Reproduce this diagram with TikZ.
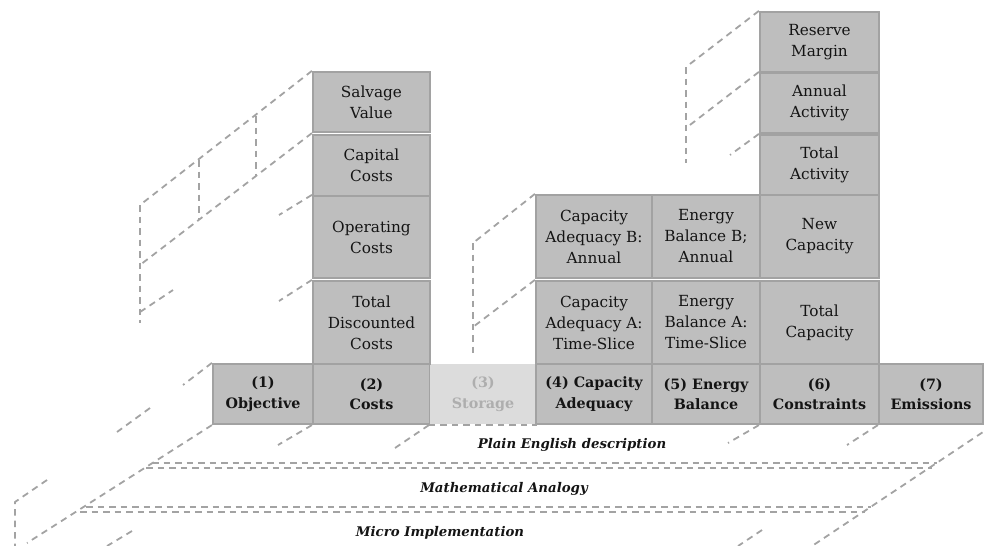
\documentclass[tikz,border=0pt]{standalone}
\usepackage{fontspec}
\setmainfont{DejaVu Serif}
\definecolor{boxgray}{HTML}{BEBEBE}
\definecolor{bordergray}{HTML}{A2A2A2}
\definecolor{dashgray}{HTML}{A3A3A3}
\definecolor{stfill}{HTML}{DCDCDC}
\definecolor{sttext}{HTML}{AEAEAE}
\definecolor{textdark}{HTML}{141414}
\begin{document}
\begin{tikzpicture}[x=1pt,y=-1pt,
  blk/.style={draw=bordergray, fill=boxgray, line width=2.2pt, inner sep=0pt, align=center,
    font=\fontsize{15.3}{21}\selectfont, text=textdark},
  bot/.style={blk, font=\fontsize{14.3}{20.5}\selectfont\bfseries},
  dl/.style={draw=dashgray, line width=1.8pt, dash pattern=on 6.5pt off 5pt},
  lay/.style={font=\fontsize{13.3}{16}\selectfont\bfseries\itshape, text=textdark}]
\useasboundingbox (0,0) rectangle (985,546);

% ---------- dashed perspective lines (behind boxes) ----------
\coordinate (L1) at (140,205);
\coordinate (L1b) at (140,323);
\coordinate (L2) at (140,265);
\coordinate (V1a) at (256,116);
\coordinate (V1b) at (256,176);
\coordinate (V2a) at (199,160);
\coordinate (V2b) at (199,220);
\coordinate (L3) at (279,215);
\coordinate (L4) at (279,301);
\coordinate (L5a) at (140,312);
\coordinate (L5b) at (173,290);

\coordinate (M1) at (473,243);
\coordinate (M1b) at (473,355);
\coordinate (M2) at (473,327);
\coordinate (M3) at (395,448);

\coordinate (R1) at (686,67);
\coordinate (R1b) at (686,163);
\coordinate (R2) at (686,128);
\coordinate (R3) at (730,155);

\coordinate (B1) at (183,385);
\coordinate (B2a) at (150,408);
\coordinate (B2b) at (117,432);
\coordinate (B3) at (27,543);
\coordinate (B4) at (278,445);
\coordinate (B5a) at (47,480);
\coordinate (B5b) at (15,502);
\coordinate (B5c) at (15,546);
\coordinate (B6a) at (132,531);
\coordinate (B6b) at (107,546);
\coordinate (B7) at (728,443);
\coordinate (B8) at (847,445);
\coordinate (B9a) at (992,426);
\coordinate (B9b) at (812,546);
\coordinate (B10a) at (762,530);
\coordinate (B10b) at (738,546);

\coordinate (P1a) at (152,463); \coordinate (P1b) at (937,463);
\coordinate (P2a) at (146,468); \coordinate (P2b) at (932,468);
\coordinate (Q1a) at (86,507);  \coordinate (Q1b) at (871,507);
\coordinate (Q2a) at (80,512);  \coordinate (Q2b) at (865,512);

\draw[dl] (P1a) -- (P1b);
\draw[dl] (P2a) -- (P2b);
\draw[dl] (Q1a) -- (Q1b);
\draw[dl] (Q2a) -- (Q2b);

\draw[dl] (L1) -- (L1b);
\draw[dl] (V1a) -- (V1b);
\draw[dl] (V2a) -- (V2b);
\draw[dl] (L5a) -- (L5b);
\draw[dl] (M1) -- (M1b);
\draw[dl] (R1) -- (R1b);
\draw[dl] (B2a) -- (B2b);
\draw[dl] (B5a) -- (B5b) -- (B5c);
\draw[dl] (B6a) -- (B6b);
\draw[dl] (B9a) -- (B9b);
\draw[dl] (B10a) -- (B10b);

% ---------- bottom row ----------
\node[bot, minimum width=100pt, minimum height=60pt] (obj) at (263,394) {(1)\\Objective};
\node[bot, minimum width=117pt, minimum height=60pt] (costs) at (371.5,394) {(2)\\Costs};
\node[bot, draw=none, fill=stfill, text=sttext, minimum width=106pt, minimum height=60pt] (stor) at (483,394) {(3)\\Storage};
\node[bot, minimum width=116pt, minimum height=60pt] (capad) at (594,394) {(4) Capacity\\Adequacy};
\node[bot, minimum width=108pt, minimum height=60pt] (enbal) at (706,394) {(5) Energy\\Balance};
\node[bot, minimum width=119pt, minimum height=60pt] (cons) at (819.5,394) {(6)\\Constraints};
\node[bot, minimum width=104pt, minimum height=60pt] (emis) at (931,394) {(7)\\Emissions};

% ---------- costs column ----------
\node[blk, minimum width=117pt, minimum height=83pt] (tdc) at (371.5,322.5) {Total\\Discounted\\Costs};
\node[blk, minimum width=117pt, minimum height=82pt] (opc) at (371.5,237) {Operating\\Costs};
\node[blk, minimum width=117pt, minimum height=61pt] (capc) at (371.5,165.5) {Capital\\Costs};
\node[blk, minimum width=117pt, minimum height=60pt] (salv) at (371.5,102) {Salvage\\Value};

% ---------- capacity / energy columns ----------
\node[blk, minimum width=116pt, minimum height=83pt] (capA) at (594,322.5) {Capacity\\Adequacy A:\\Time-Slice};
\node[blk, minimum width=116pt, minimum height=83pt] (capB) at (594,236.5) {Capacity\\Adequacy B:\\Annual};
\node[blk, minimum width=108pt, minimum height=83pt] (enA) at (706,322.5) {Energy\\Balance A:\\Time-Slice};
\node[blk, minimum width=108pt, minimum height=83pt] (enB) at (706,236.5) {Energy\\Balance B;\\Annual};

% ---------- constraints column ----------
\node[blk, minimum width=119pt, minimum height=83pt] (totcap) at (819.5,322.5) {Total\\Capacity};
\node[blk, minimum width=119pt, minimum height=83pt] (newcap) at (819.5,236.5) {New\\Capacity};
\node[blk, minimum width=119pt, minimum height=60pt] (totact) at (819.5,165) {Total\\Activity};
\node[blk, minimum width=119pt, minimum height=60pt] (annact) at (819.5,103) {Annual\\Activity};
\node[blk, minimum width=119pt, minimum height=60pt] (resm) at (819.5,42) {Reserve\\Margin};

% ---------- dashed lines from box corners ----------
\draw[dl] (salv.north west) -- (L1);
\draw[dl] (salv.south west) -- (L2);
\draw[dl] (opc.north west) -- (L3);
\draw[dl] (tdc.north west) -- (L4);
\draw[dl] (capB.north west) -- (M1);
\draw[dl] (capA.north west) -- (M2);
\draw[dl] (stor.south west) -- (M3);
\draw[dl] (stor.south west) -- (stor.south east);
\draw[dl] (resm.north west) -- (R1);
\draw[dl] (annact.north west) -- (R2);
\draw[dl] (totact.north west) -- (R3);
\draw[dl] (obj.north west) -- (B1);
\draw[dl] (obj.south west) -- (B3);
\draw[dl] (costs.south west) -- (B4);
\draw[dl] (cons.south west) -- (B7);
\draw[dl] (emis.south west) -- (B8);

% ---------- layer labels ----------
\node[lay] (plain) at (572,445) {Plain English description};
\node[lay] (math) at (504,489) {Mathematical Analogy};
\node[lay] (micro) at (440,533) {Micro Implementation};
\end{tikzpicture}
\end{document}
